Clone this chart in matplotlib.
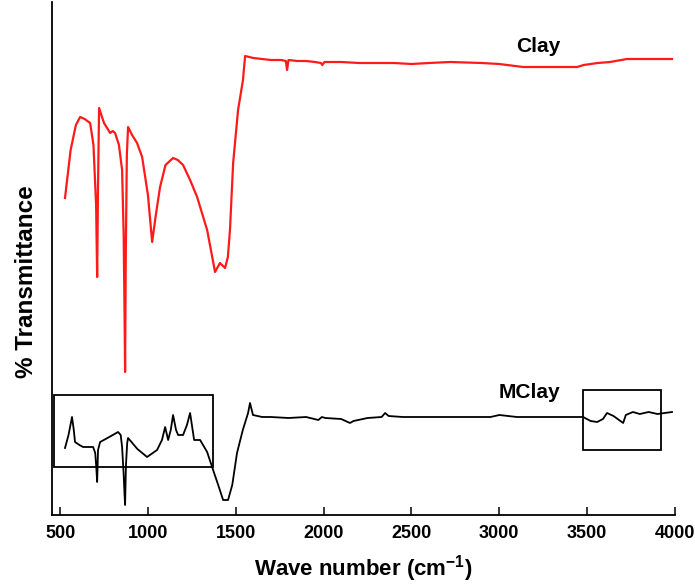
import matplotlib
matplotlib.use("Agg")
import matplotlib.pyplot as plt
from matplotlib.patches import Rectangle

plt.rcParams['font.family'] = ['Liberation Sans', 'DejaVu Sans']
plt.rcParams['font.weight'] = 'bold'
plt.rcParams['mathtext.fontset'] = 'custom'
plt.rcParams['mathtext.rm'] = 'Liberation Sans:bold'
plt.rcParams['mathtext.bf'] = 'Liberation Sans:bold'

# Clay spectrum (wavenumber, relative transmittance)
clay_wn = [528, 560, 590, 614, 640, 671, 690, 705, 711, 716, 722, 750, 785, 800, 813, 835, 853, 862, 867, 870, 874, 880,
           887, 910, 938, 967, 1000, 1024, 1045, 1069, 1100, 1143, 1170, 1200, 1240, 1280, 1337, 1382, 1410, 1439, 1455,
           1467, 1485, 1513, 1541, 1553, 1600, 1650, 1700, 1760, 1785, 1792, 1800, 1850, 1900, 1950, 1985, 1992, 2005,
           2100, 2200, 2300, 2400, 2500, 2600, 2720, 2900, 3000, 3135, 3300, 3443, 3480, 3560, 3630, 3727, 3850, 3983]
clay_t = [317, 365, 390, 398, 396, 392, 370, 310, 238, 330, 407, 392, 382, 384, 382, 370, 345, 280, 200, 143, 260, 360,
          388, 380, 372, 358, 320, 273, 300, 328, 350, 357, 355, 350, 335, 318, 285, 243, 252, 247, 258,
          285, 352, 405, 435, 459, 457, 456, 455, 455, 454, 445, 455, 454, 454, 453, 452, 450, 453,
          453, 452, 452, 452, 451, 452, 453, 452, 451, 448, 448, 448, 450, 452, 453, 456, 456, 456]

# MClay spectrum
mclay_wn = [528, 548, 568, 578, 585, 610, 631, 660, 688, 700, 706, 711, 716, 728, 780, 830, 845, 853, 862, 867, 870, 875,
            882, 887, 940, 995, 1052, 1080, 1098, 1115, 1130, 1143, 1160, 1172, 1200, 1222, 1240, 1263, 1297, 1337, 1371,
            1400, 1428, 1456, 1480, 1507, 1540, 1570, 1581, 1598, 1650, 1700, 1800, 1900, 1970, 1990, 2010, 2100, 2150,
            2170, 2250, 2330, 2350, 2370, 2450, 2600, 2720, 2850, 2950, 3000, 3100, 3300, 3477, 3520, 3557, 3590, 3613,
            3650, 3705, 3720, 3760, 3800, 3850, 3900, 3983]
mclay_t = [67, 80, 98, 85, 73, 70, 68, 68, 68, 62, 48, 33, 65, 73, 78, 83, 80, 68, 40, 20, 10, 50,
           72, 77, 66, 58, 65, 75, 88, 75, 85, 100, 85, 80, 80, 90, 102, 75, 75, 63, 45,
           30, 15, 15, 30, 62, 85, 102, 112, 100, 98, 98, 97, 98, 95, 98, 97, 96, 92,
           94, 97, 98, 102, 99, 98, 98, 98, 98, 98, 100, 98, 98, 98, 94, 93, 96, 102,
           99, 92, 100, 103, 101, 103, 101, 103]

# Highlight boxes: (x0, x1, y0, y1) in data units
box1 = (466, 1371, 48, 120)
box2 = (3477, 3920, 65, 125)

xticks = [500, 1000, 1500, 2000, 2500, 3000, 3500, 4000]

fig = plt.figure(figsize=(6.95, 5.87), dpi=100)
ax = fig.add_axes([52 / 695, 1 - 515 / 587, (675 - 52) / 695, 513 / 587])

ax.plot(clay_wn, clay_t, color='#ff1a1a', lw=1.6)
ax.plot(mclay_wn, mclay_t, color='black', lw=1.3)

for b in (box1, box2):
    ax.add_patch(Rectangle((b[0], b[2]), b[1] - b[0], b[3] - b[2], fill=False, edgecolor='black', lw=1.3))

ax.text(3220, 469, 'Clay', fontsize=15, fontweight='bold', ha='center', va='center')
ax.text(3170, 122, 'MClay', fontsize=15, fontweight='bold', ha='center', va='center')

ax.set_xlim(454, 4000)
ax.set_ylim(0, 513)
ax.set_xticks(xticks)
ax.set_xticklabels([str(t) for t in xticks], fontsize=13, fontweight='bold')
ax.set_yticks([])
ax.tick_params(axis='x', direction='in', length=6, width=1.1, pad=7)
for s in ('top', 'right'):
    ax.spines[s].set_visible(False)
for s in ('left', 'bottom'):
    ax.spines[s].set_linewidth(1.3)

ax.set_xlabel('Wave number (cm$^{\\mathbf{-1}}$)', fontsize=16, fontweight='bold', labelpad=8)
ax.set_ylabel('% Transmittance', fontsize=17.5, fontweight='bold')
ax.yaxis.set_label_coords(-0.023, 0.454)

fig.savefig('out.png', dpi=100)
